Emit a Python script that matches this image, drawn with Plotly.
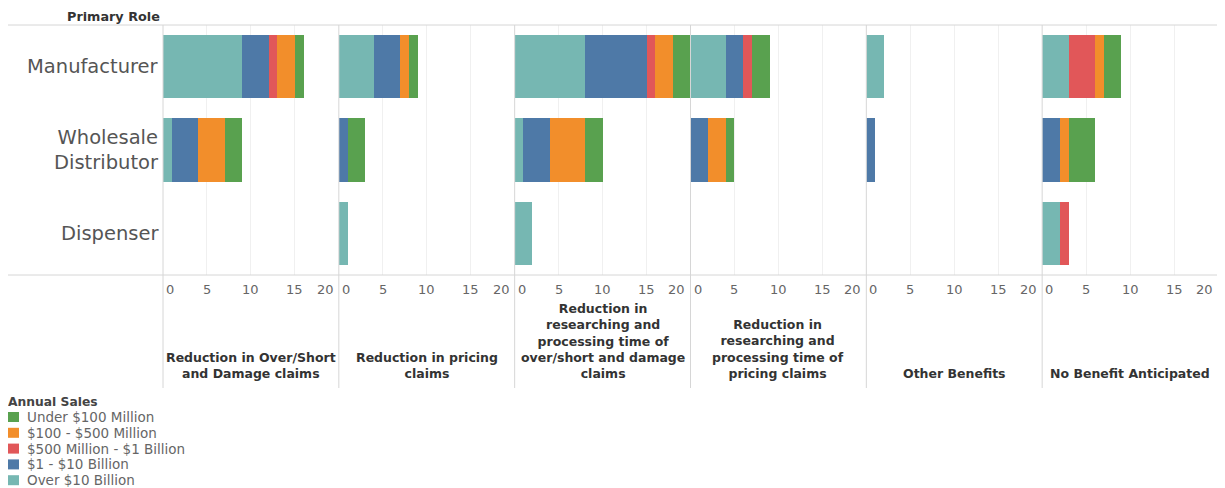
import plotly.graph_objects as go
from plotly.subplots import make_subplots

# ---------------- data ----------------
roles = ["Manufacturer", "Wholesale Distributor", "Dispenser"]
role_labels = ["Manufacturer", "Wholesale<br>Distributor", "Dispenser"]
benefits = [
    "Reduction in Over/Short<br>and Damage claims",
    "Reduction in pricing<br>claims",
    "Reduction in<br>researching and<br>processing time of<br>over/short and damage<br>claims",
    "Reduction in<br>researching and<br>processing time of<br>pricing claims",
    "Other Benefits",
    "No Benefit Anticipated",
]
ticks = [0, 5, 10, 15, 20]

series_names = ["Over $10 Billion", "$1 - $10 Billion", "$500 Million - $1 Billion",
                "$100 - $500 Million", "Under $100 Million"]
series_colors = ["#76B7B2", "#4E79A7", "#E15759", "#F28E2B", "#59A14F"]

# values per benefit panel: [Manufacturer, Wholesale Distributor, Dispenser]
over_10b = [[9, 1, 0], [4, 0, 1], [8, 1, 2], [4, 0, 0], [2, 0, 0], [3, 0, 2]]
b1_10 = [[3, 3, 0], [3, 1, 0], [7, 3, 0], [2, 2, 0], [0, 1, 0], [0, 2, 0]]
m500_1b = [[1, 0, 0], [0, 0, 0], [1, 0, 0], [1, 0, 0], [0, 0, 0], [3, 0, 1]]
m100_500 = [[2, 3, 0], [1, 0, 0], [2, 4, 0], [0, 2, 0], [0, 0, 0], [1, 1, 0]]
under_100 = [[1, 2, 0], [1, 2, 0], [2, 2, 0], [2, 1, 0], [0, 0, 0], [2, 3, 0]]

series_values = [over_10b, b1_10, m500_1b, m100_500, under_100]

# ---------------- figure ----------------
OFF = 8  # page body margin
W, H = 1225 - OFF, 488 - OFF
ML = 163 - OFF
MT = 25 - OFF
MR = W - (1218 - OFF)
MB = H - (275 - OFF)
PW, PH = W - ML - MR, H - MT - MB
FONT = "DejaVu Sans, Verdana, sans-serif"

def px_x(px):
    return (px - OFF - ML) / PW

def px_y(py):
    return 1 - (py - OFF - MT) / PH

n = len(benefits)
fig = make_subplots(rows=1, cols=n, shared_yaxes=True, horizontal_spacing=0)

for s, (name, color, vals) in enumerate(zip(series_names, series_colors, series_values)):
    for i in range(n):
        fig.add_trace(go.Bar(
            x=vals[i], y=roles, orientation="h", name=name,
            marker=dict(color=color, line=dict(width=0)),
            showlegend=False, legendgroup=name,
            hovertemplate="%{y}: %{x}<extra>" + name + "</extra>",
        ), row=1, col=i + 1)

fig.update_layout(
    width=W, height=H, barmode="stack", bargap=0.24,
    margin=dict(l=ML, r=MR, t=MT, b=MB),
    plot_bgcolor="white", paper_bgcolor="white",
    font=dict(family=FONT, color="#555"),
    showlegend=False,
)
fig.update_xaxes(range=[0, 20], tickvals=ticks, showticklabels=False,
                 showgrid=True, gridcolor="#f0f0f0", gridwidth=1,
                 zeroline=False, showline=False, fixedrange=True)
fig.update_yaxes(categoryorder="array", categoryarray=roles, autorange="reversed",
                 showticklabels=False, showgrid=False, zeroline=False, fixedrange=True)

shapes = []
annotations = []
for i in range(n):
    xr = "x" if i == 0 else f"x{i + 1}"
    # panel separator
    shapes.append(dict(type="line", xref=f"{xr} domain", x0=0, x1=0,
                       yref="paper", y0=px_y(388), y1=1,
                       line=dict(color="#d6d6d6", width=1)))
    # tick labels
    for t in ticks:
        anchor = "left" if t == ticks[0] else ("right" if t == ticks[-1] else "center")
        annotations.append(dict(xref=xr, x=t, yref="paper", y=px_y(289),
                                text=str(t), showarrow=False, xanchor=anchor,
                                yanchor="middle",
                                xshift=1 if anchor == "left" else (-3 if anchor == "right" else 0),
                                font=dict(size=13, color="#666")))
    # column header
    annotations.append(dict(xref=f"{xr} domain", x=0.5, yref="paper", y=px_y(383),
                            text="<b>" + benefits[i] + "</b>", showarrow=False,
                            xanchor="center", yanchor="bottom", align="center",
                            font=dict(size=12.5, color="#333")))

# top and bottom rules
for py in (25, 275):
    shapes.append(dict(type="line", xref="paper", x0=px_x(6), x1=1,
                       yref="paper", y0=px_y(py), y1=px_y(py),
                       line=dict(color="#d6d6d6", width=1)))

# row labels
for r, lab in zip(roles, role_labels):
    annotations.append(dict(xref="paper", x=0, xshift=-2, yref="y", y=r,
                            text=lab, showarrow=False, xanchor="right", align="right",
                            yanchor="middle", font=dict(size=19.5, color="#555")))

annotations.append(dict(xref="paper", x=0, xshift=-1, yref="paper", y=px_y(17),
                        text="<b>Primary Role</b>", showarrow=False, xanchor="right",
                        yanchor="middle", font=dict(size=12.8, color="#333")))

# legend (drawn manually, top to bottom = reversed stacking order)
annotations.append(dict(xref="paper", x=px_x(6), yref="paper", y=px_y(402),
                        text="<b>Annual Sales</b>", showarrow=False, xanchor="left",
                        yanchor="middle", font=dict(size=12.3, color="#444")))
for k, (name, color) in enumerate(zip(series_names[::-1], series_colors[::-1])):
    cy = 417 + 15.8 * k
    shapes.append(dict(type="rect", xref="paper", yref="paper",
                       x0=px_x(8), x1=px_x(19), y0=px_y(cy + 5), y1=px_y(cy - 5),
                       fillcolor=color, line=dict(width=0)))
    annotations.append(dict(xref="paper", x=px_x(25), yref="paper", y=px_y(cy),
                            text=name, showarrow=False, xanchor="left", yanchor="middle",
                            font=dict(size=13.5, color="#666")))

fig.update_layout(shapes=shapes, annotations=annotations)
fig.write_html("out.html")
